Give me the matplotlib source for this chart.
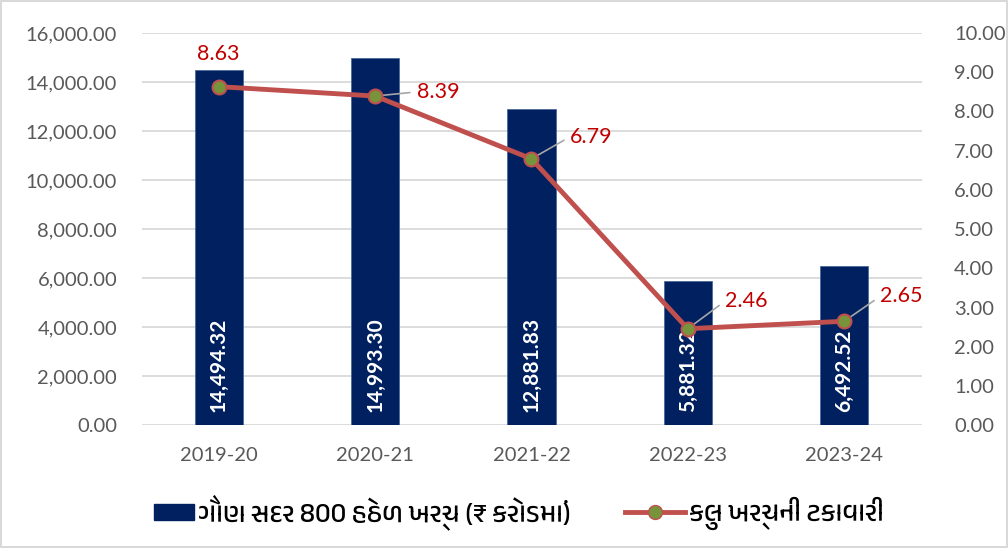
import matplotlib
matplotlib.use('Agg')
import matplotlib.pyplot as plt
from matplotlib import font_manager
from matplotlib.lines import Line2D
from matplotlib.patches import Patch, Rectangle
from matplotlib.legend_handler import HandlerPatch

years = ['2019-20', '2020-21', '2021-22', '2022-23', '2023-24']
spend = [14494.32, 14993.30, 12881.83, 5881.32, 6492.52]     # ₹ crore
share = [8.63, 8.39, 6.79, 2.46, 2.65]                        # % of total

bar_label = 'ગૌણ સદર 800 હેઠળ ખર્ચ (₹ કરોડમાં)'
line_label = 'કુલ ખર્ચની ટકાવારી'

# pick up a Gujarati face if one is installed, else fall back
guj = [f.name for f in font_manager.fontManager.ttflist if 'Gujarati' in f.name]
base_font = ['Lato', 'DejaVu Sans']
legend_font = guj[:1] + base_font

navy = '#002060'
red_line = '#C0504D'
green = '#77933C'
lbl_red = '#C00000'
tick_grey = '#595959'
grid_grey = '#D9D9D9'

plt.rcParams['font.family'] = base_font

fig = plt.figure(figsize=(10.08, 5.48), dpi=100)
fig.patch.set_edgecolor(grid_grey)
fig.patch.set_linewidth(1.5)
ax = fig.add_axes([0.141, 0.224, 0.774, 0.716])
ax2 = ax.twinx()

x = list(range(len(years)))
ax.bar(x, spend, width=0.31, color=navy, edgecolor='#4A6A9A', linewidth=0.6, zorder=2)
ax.set_ylim(0, 16000)
ax.set_xlim(-0.49, 4.5)
ax.set_yticks(range(0, 16001, 2000))
ax.set_yticklabels([f'{v:,.2f}' for v in range(0, 16001, 2000)])
ax.grid(axis='y', color=grid_grey, linewidth=1.3, zorder=0)
ax.set_axisbelow(True)
ax.set_xticks(x)
ax.set_xticklabels(years)

for xi, v in zip(x, spend):
    ax.text(xi, 520, f'{v:,.2f}', rotation=90, ha='center', va='bottom',
            color='white', fontsize=15, fontweight='bold', zorder=5)

ax2.plot(x, share, color=red_line, linewidth=3.5, marker='o', markersize=10,
         markerfacecolor=green, markeredgecolor=red_line, markeredgewidth=1.5, zorder=4)
ax2.set_ylim(0, 10)
ax2.set_yticks(range(0, 11))
ax2.set_yticklabels([f'{v:.2f}' for v in range(0, 11)])

# value labels for the line; first one sits above, the rest off to the right
ax2.annotate(f'{share[0]:.2f}', (x[0], share[0]), xytext=(0, 16), textcoords='offset points',
             ha='center', va='bottom', color=lbl_red, fontsize=15.5)
offsets = [(30, 3), (28, 16), (27, 20), (26, 18)]
for xi, v, off in zip(x[1:], share[1:], offsets):
    ax2.annotate(f'{v:.2f}', (xi, v), xytext=off, textcoords='offset points',
                 ha='left', va='center', color=lbl_red, fontsize=15.5,
                 arrowprops=dict(arrowstyle='-', color='#A6A6A6', lw=1.2,
                                 shrinkA=3, shrinkB=0, relpos=(0, 0.5)))

for a in (ax, ax2):
    for s in a.spines.values():
        s.set_visible(False)
    a.tick_params(length=0, labelsize=14.5, labelcolor=tick_grey)
ax.yaxis.set_tick_params(pad=18)
ax2.yaxis.set_tick_params(pad=23)
ax.xaxis.set_tick_params(pad=16)


# shorter box for the bar entry, pushed up against its text
def short_box(legend, orig_handle, xdescent, ydescent, width, height, fontsize):
    return Rectangle((-xdescent + 0.32 * width, -ydescent), 0.68 * width, height)


handles = [Patch(facecolor=navy, edgecolor=navy),
           Line2D([0], [0], color=red_line, linewidth=3.5, marker='o', markersize=10,
                  markerfacecolor=green, markeredgecolor=red_line)]
fig.legend(handles, [bar_label, line_label], loc='center', bbox_to_anchor=(0.505, 0.065),
           ncol=2, frameon=False, prop={'family': legend_font, 'size': 19.5},
           handlelength=2.2, handleheight=0.55, columnspacing=2.0, handletextpad=0.15,
           handler_map={Patch: HandlerPatch(patch_func=short_box)})

fig.savefig('out.png', dpi=100)
